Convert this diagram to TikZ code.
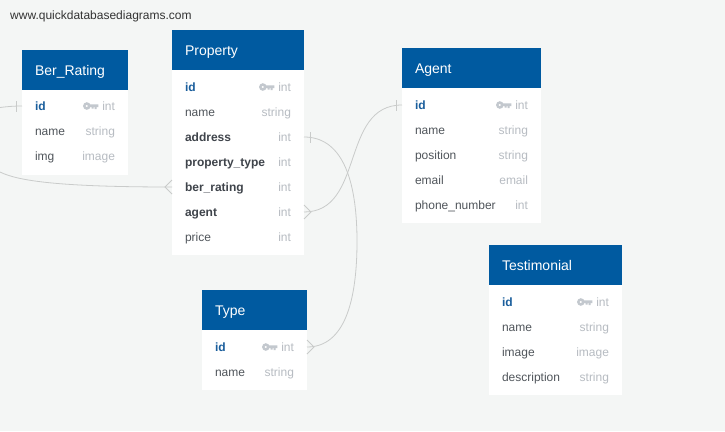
\documentclass[tikz,border=0pt]{standalone}
\usepackage{fontspec}
\setmainfont{Liberation Sans}
\usetikzlibrary{positioning}
\definecolor{pagebg}{HTML}{F4F6F5}
\definecolor{headblue}{HTML}{005AA0}
\definecolor{idblue}{HTML}{1A5E9C}
\definecolor{rowtext}{HTML}{50555B}
\definecolor{strongtext}{HTML}{3F444B}
\definecolor{typetext}{HTML}{B7BCC2}
\definecolor{keygrey}{HTML}{C3C8CE}
\definecolor{linkgrey}{HTML}{C9CBCA}
\tikzset{
	tablehead/.style={rectangle, fill=headblue, text=white, minimum height=40, inner sep=0, inner xsep=13, outer sep=0, font=\fontsize{14}{16}\selectfont, text height=14, text depth=3},
	tablebody/.style={rectangle, fill=white, inner sep=0, outer sep=0},
	colrow/.style={rectangle, inner sep=0, inner xsep=13, outer sep=0, minimum height=25, text height=11, text depth=3, text=rowtext, font=\fontsize{12}{14}\selectfont},
	colid/.style={colrow, text=idblue, font=\fontsize{12}{14}\selectfont\bfseries},
	colstrong/.style={colrow, text=strongtext, font=\fontsize{12}{14}\selectfont\bfseries},
	coltype/.style={rectangle, inner sep=0, outer sep=0, text=typetext, text height=11, text depth=3, font=\fontsize{12}{14}\selectfont},
	link/.style={draw=linkgrey, line width=0.8},
	dbkey/.pic={
		\fill[keygrey, even odd rule] (-11.5,0) circle (3.8) (-11.5,0) circle (1.4);
		\fill[keygrey] (-9,-1.6) rectangle (0,1) (-3.6,1) rectangle (-1.6,3) (-6.6,1) rectangle (-4.8,2.6);
	}
}
\begin{document}
\begin{tikzpicture}[x=1pt, y=-1pt]
	\useasboundingbox (0,0) rectangle (725,431);
	\fill[pagebg] (0,0) rectangle (725,431);

	\node (site) [anchor=west, inner sep=0, text=black!80, font=\fontsize{12}{14}\selectfont] at (10,16.5) {www.quickdatabasediagrams.com};

	% Ber_Rating
	\node (ber) [tablehead, anchor=north west, minimum width=106, text width=80] at (22,50) {Ber\_Rating};
	\node (berbody) [tablebody, below=0pt of ber, minimum width=106, minimum height=85] {};
	\node (ber1) [colid, below=3.5pt of ber, text width=80] {id};
	\node (ber2) [colrow, below=0pt of ber1, text width=80] {name};
	\node (ber3) [colrow, below=0pt of ber2, text width=80] {img};
	\node (ber1t) [coltype, anchor=east] at ([xshift=-13]ber1.east) {int};
	\node (ber2t) [coltype, anchor=east] at ([xshift=-13]ber2.east) {string};
	\node (ber3t) [coltype, anchor=east] at ([xshift=-13]ber3.east) {image};
	\pic at ([xshift=-4]ber1t.west) {dbkey};

	% Property
	\node (prop) [tablehead, anchor=north west, minimum width=132, text width=106] at (172,30) {Property};
	\node (propbody) [tablebody, below=0pt of prop, minimum width=132, minimum height=185] {};
	\node (prop1) [colid, below=4.5pt of prop, text width=106] {id};
	\node (prop2) [colrow, below=0pt of prop1, text width=106] {name};
	\node (prop3) [colstrong, below=0pt of prop2, text width=106] {address};
	\node (prop4) [colstrong, below=0pt of prop3, text width=106] {property\_type};
	\node (prop5) [colstrong, below=0pt of prop4, text width=106] {ber\_rating};
	\node (prop6) [colstrong, below=0pt of prop5, text width=106] {agent};
	\node (prop7) [colrow, below=0pt of prop6, text width=106] {price};
	\node (prop1t) [coltype, anchor=east] at ([xshift=-13]prop1.east) {int};
	\node (prop2t) [coltype, anchor=east] at ([xshift=-13]prop2.east) {string};
	\node (prop3t) [coltype, anchor=east] at ([xshift=-13]prop3.east) {int};
	\node (prop4t) [coltype, anchor=east] at ([xshift=-13]prop4.east) {int};
	\node (prop5t) [coltype, anchor=east] at ([xshift=-13]prop5.east) {int};
	\node (prop6t) [coltype, anchor=east] at ([xshift=-13]prop6.east) {int};
	\node (prop7t) [coltype, anchor=east] at ([xshift=-13]prop7.east) {int};
	\pic at ([xshift=-4]prop1t.west) {dbkey};

	% Agent
	\node (agent) [tablehead, anchor=north west, minimum width=139, text width=113] at (402,48) {Agent};
	\node (agentbody) [tablebody, below=0pt of agent, minimum width=139, minimum height=135] {};
	\node (agent1) [colid, below=4.5pt of agent, text width=113] {id};
	\node (agent2) [colrow, below=0pt of agent1, text width=113] {name};
	\node (agent3) [colrow, below=0pt of agent2, text width=113] {position};
	\node (agent4) [colrow, below=0pt of agent3, text width=113] {email};
	\node (agent5) [colrow, below=0pt of agent4, text width=113] {phone\_number};
	\node (agent1t) [coltype, anchor=east] at ([xshift=-13]agent1.east) {int};
	\node (agent2t) [coltype, anchor=east] at ([xshift=-13]agent2.east) {string};
	\node (agent3t) [coltype, anchor=east] at ([xshift=-13]agent3.east) {string};
	\node (agent4t) [coltype, anchor=east] at ([xshift=-13]agent4.east) {email};
	\node (agent5t) [coltype, anchor=east] at ([xshift=-13]agent5.east) {int};
	\pic at ([xshift=-4]agent1t.west) {dbkey};

	% Type
	\node (type) [tablehead, anchor=north west, minimum width=105, text width=79] at (202,290) {Type};
	\node (typebody) [tablebody, below=0pt of type, minimum width=105, minimum height=60] {};
	\node (type1) [colid, below=4.5pt of type, text width=79] {id};
	\node (type2) [colrow, below=0pt of type1, text width=79] {name};
	\node (type1t) [coltype, anchor=east] at ([xshift=-13]type1.east) {int};
	\node (type2t) [coltype, anchor=east] at ([xshift=-13]type2.east) {string};
	\pic at ([xshift=-4]type1t.west) {dbkey};

	% Testimonial
	\node (testi) [tablehead, anchor=north west, minimum width=133, text width=107] at (489,245) {Testimonial};
	\node (testibody) [tablebody, below=0pt of testi, minimum width=133, minimum height=110] {};
	\node (testi1) [colid, below=4.5pt of testi, text width=107] {id};
	\node (testi2) [colrow, below=0pt of testi1, text width=107] {name};
	\node (testi3) [colrow, below=0pt of testi2, text width=107] {image};
	\node (testi4) [colrow, below=0pt of testi3, text width=107] {description};
	\node (testi1t) [coltype, anchor=east] at ([xshift=-13]testi1.east) {int};
	\node (testi2t) [coltype, anchor=east] at ([xshift=-13]testi2.east) {string};
	\node (testi3t) [coltype, anchor=east] at ([xshift=-13]testi3.east) {image};
	\node (testi4t) [coltype, anchor=east] at ([xshift=-13]testi4.east) {string};
	\pic at ([xshift=-4]testi1t.west) {dbkey};

	% links
	\coordinate (offa) at (0,107.5);
	\coordinate (offb) at (0,172);
	\coordinate (addrturn) at (357,241.5);
	\draw[link] (offa) .. controls (8,106.5) and (14,106) .. (ber1.west);
	\draw[link] (offb) .. controls (18,181) and (60,187) .. (prop5.west);
	\draw[link] (prop6.east) .. controls +(61,0) and +(-62,0) .. (agent1.west);
	\draw[link] (prop3.east) .. controls +(36,0) and +(0,-66.5) .. (addrturn) .. controls +(0,58.5) and +(38,0) .. (type1.east);

	% line ends
	\draw[link] ([xshift=-6,yshift=-5.5]ber1.west) -- ([xshift=-6,yshift=5.5]ber1.west);
	\draw[link] ([xshift=-6,yshift=-5.5]agent1.west) -- ([xshift=-6,yshift=5.5]agent1.west);
	\draw[link] ([xshift=6,yshift=-5.5]prop3.east) -- ([xshift=6,yshift=5.5]prop3.east);
	\draw[link] ([yshift=7]prop5.west) -- ([xshift=-7]prop5.west) -- ([yshift=-7]prop5.west);
	\draw[link] ([yshift=7]prop6.east) -- ([xshift=7]prop6.east) -- ([yshift=-7]prop6.east);
	\draw[link] ([yshift=7]type1.east) -- ([xshift=7]type1.east) -- ([yshift=-7]type1.east);
\end{tikzpicture}
\end{document}
